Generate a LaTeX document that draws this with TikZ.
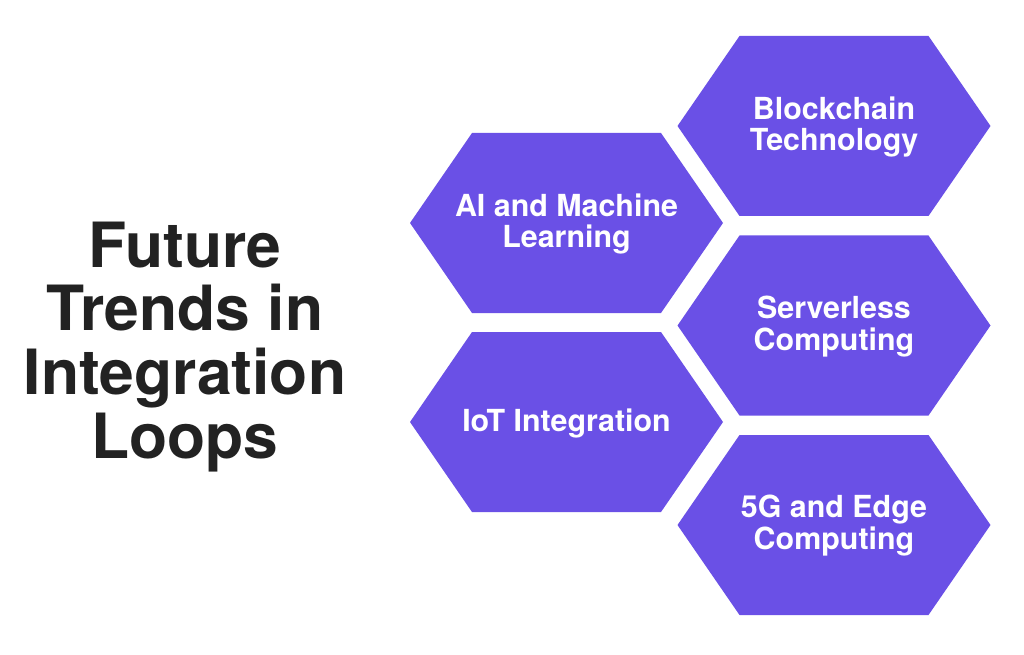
\documentclass[tikz,border=0pt]{standalone}
\usepackage{fontspec}
\setmainfont{TeX Gyre Heros}
\usepackage{xcolor}
\definecolor{hexpurple}{RGB}{106,80,230}
\definecolor{titlegray}{RGB}{34,34,34}

\tikzset{
    hexfill/.style={fill=hexpurple},
    hexlabel/.style={text=white, align=center, font=\fontsize{17.3}{18.2}\selectfont\bfseries},
    titletext/.style={text=titlegray, align=center, font=\fontsize{35.5}{36.4}\selectfont\bfseries}
}

\begin{document}
\begin{tikzpicture}[x=0.02cm, y=-0.02cm]
        \pgfmathsetmacro{\hw}{156.5}
        \pgfmathsetmacro{\tw}{94.5}
        \pgfmathsetmacro{\hh}{90}
        \useasboundingbox (0,0) rectangle (1024,655);

        % title
        \node[titletext] (title) at (185,347) {Future\\Trends in\\Integration\\Loops};

        % left column
        \fill[hexfill] (566.5,223) +(-\hw,0) -- +(-\tw,-\hh) -- +(\tw,-\hh) -- +(\hw,0) -- +(\tw,\hh) -- +(-\tw,\hh) -- cycle;
        \node[hexlabel] (ai) at (566.5,224) {AI and Machine\\Learning};
        \fill[hexfill] (566.5,422) +(-\hw,0) -- +(-\tw,-\hh) -- +(\tw,-\hh) -- +(\hw,0) -- +(\tw,\hh) -- +(-\tw,\hh) -- cycle;
        \node[hexlabel] (iot) at (566.5,423) {IoT Integration};

        % right column
        \fill[hexfill] (834,126) +(-\hw,0) -- +(-\tw,-\hh) -- +(\tw,-\hh) -- +(\hw,0) -- +(\tw,\hh) -- +(-\tw,\hh) -- cycle;
        \node[hexlabel] (chain) at (834,127) {Blockchain\\Technology};
        \fill[hexfill] (834,325.5) +(-\hw,0) -- +(-\tw,-\hh) -- +(\tw,-\hh) -- +(\hw,0) -- +(\tw,\hh) -- +(-\tw,\hh) -- cycle;
        \node[hexlabel] (serverless) at (834,326.5) {Serverless\\Computing};
        \fill[hexfill] (834,525) +(-\hw,0) -- +(-\tw,-\hh) -- +(\tw,-\hh) -- +(\hw,0) -- +(\tw,\hh) -- +(-\tw,\hh) -- cycle;
        \node[hexlabel] (edge) at (834,526) {5G and Edge\\Computing};

    \end{tikzpicture}
\end{document}
